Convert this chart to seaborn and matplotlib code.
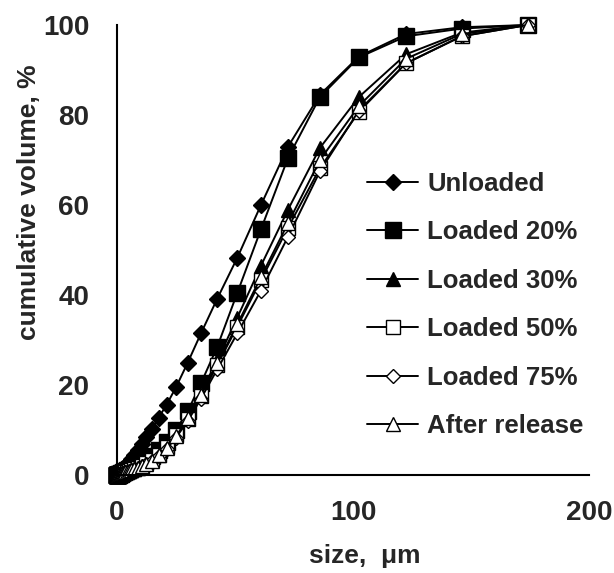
import pandas as pd
import matplotlib
matplotlib.use('Agg')
import matplotlib.pyplot as plt
import seaborn as sns


# particle size bins, um
sizes = [0.05, 0.06, 0.07, 0.08, 0.09, 0.11, 0.13, 0.15, 0.18, 0.22,
         0.26, 0.31, 0.37,
         0.44, 0.52, 0.62, 0.74, 0.88, 1.05, 1.25, 1.5, 1.8, 2.1,
         2.5, 3.0, 3.6, 4.3, 5.1, 6.1, 7.3, 8.7, 10.4, 12.4,
         14.8, 17.6, 21.0, 25.0, 30.0, 35.6, 42.5, 51.0, 61.0, 72.5,
         86.0, 102.5, 122.5, 146.0, 174.0]

# cumulative volume, %
unloaded = [0.0, 0.0, 0.0, 0.0, 0.0, 0.0, 0.0, 0.0, 0.0, 0.0,
            0.0, 0.0, 0.01,
            0.02, 0.06, 0.12, 0.2, 0.3, 0.4, 0.5, 0.65, 0.8, 1.0,
            1.2, 1.5, 1.9, 2.3, 2.9, 3.6, 4.5, 5.5, 6.8, 8.4,
            10.3, 12.7, 15.6, 19.5, 25.0, 31.5, 39.2, 48.3, 60.0, 73.0,
            84.5, 93.0, 98.0, 99.5, 100.0]
loaded_20 = [0.0, 0.0, 0.0, 0.0, 0.0, 0.0, 0.0, 0.0, 0.0, 0.0,
             0.0, 0.0, 0.0,
             0.01, 0.03, 0.06, 0.1, 0.15, 0.2, 0.25, 0.32, 0.4, 0.5,
             0.6, 0.75, 0.9, 1.1, 1.3, 1.6, 1.9, 2.3, 2.8, 3.4,
             4.3, 5.5, 7.3, 10.0, 14.2, 20.4, 28.5, 40.5, 54.6, 70.5,
             84.0, 92.8, 97.5, 99.2, 100.0]
loaded_30 = [0.0, 0.0, 0.0, 0.0, 0.0, 0.0, 0.0, 0.0, 0.0, 0.0,
             0.0, 0.0, 0.0,
             0.01, 0.02, 0.05, 0.08, 0.12, 0.17, 0.22, 0.28, 0.35, 0.42,
             0.5, 0.6, 0.7, 0.85, 1.0, 1.2, 1.5, 1.8, 2.2, 2.8,
             3.6, 4.8, 6.6, 9.3, 13.2, 18.5, 25.5, 35.0, 46.5, 59.0,
             72.7, 84.0, 93.5, 98.3, 100.0]
loaded_50 = [0.0, 0.0, 0.0, 0.0, 0.0, 0.0, 0.0, 0.0, 0.0, 0.0,
             0.0, 0.0, 0.0,
             0.01, 0.02, 0.04, 0.07, 0.1, 0.14, 0.19, 0.24, 0.3, 0.36,
             0.43, 0.52, 0.62, 0.75, 0.9, 1.1, 1.3, 1.6, 2.0, 2.6,
             3.3, 4.5, 6.2, 8.8, 12.5, 17.5, 24.5, 33.0, 43.3, 55.0,
             68.2, 80.7, 91.5, 97.5, 100.0]
loaded_75 = [0.0, 0.0, 0.0, 0.0, 0.0, 0.0, 0.0, 0.0, 0.0, 0.0,
             0.0, 0.0, 0.0,
             0.01, 0.02, 0.04, 0.06, 0.09, 0.13, 0.17, 0.22, 0.28, 0.34,
             0.41, 0.5, 0.6, 0.72, 0.86, 1.05, 1.25, 1.5, 1.9, 2.4,
             3.1, 4.2, 5.8, 8.3, 12.0, 17.0, 23.5, 31.5, 41.0, 53.0,
             67.5, 81.0, 91.5, 97.5, 100.0]
after_release = [0.0, 0.0, 0.0, 0.0, 0.0, 0.0, 0.0, 0.0, 0.0, 0.0,
                 0.0, 0.0, 0.0,
                 0.01, 0.02, 0.04, 0.07, 0.1, 0.14, 0.18, 0.23, 0.29, 0.35,
                 0.42, 0.51, 0.61, 0.74, 0.88, 1.07, 1.3, 1.6, 2.0, 2.5,
                 3.2, 4.4, 6.0, 8.6, 12.6, 17.8, 24.8, 33.5, 44.0, 56.0,
                 70.0, 82.0, 92.5, 98.0, 100.0]

labels = ['Unloaded', 'Loaded 20%', 'Loaded 30%',
          'Loaded 50%', 'Loaded 75%', 'After release']
series = [unloaded, loaded_20, loaded_30, loaded_50, loaded_75, after_release]

# marker, marker size, face colour
STYLE = [
    ('D', 8.5, 'black'),
    ('s', 12, 'black'),
    ('^', 10.5, 'black'),
    ('s', 10, 'white'),
    ('D', 7.5, 'white'),
    ('^', 10, 'white'),
]

df = pd.concat(
    [pd.DataFrame({'size': sizes, 'volume': vals, 'sample': lab})
     for lab, vals in zip(labels, series)],
    ignore_index=True)

sns.set_style('white')
plt.rcParams['font.family'] = ['Liberation Sans', 'DejaVu Sans']
plt.rcParams['font.weight'] = 'bold'

fig = plt.figure(figsize=(6.14, 5.73), dpi=100)
ax = fig.add_axes([117 / 614, 98 / 573, 472 / 614, 450 / 573])

for i, lab in enumerate(labels):
    marker, ms, face = STYLE[i]
    d = df[df['sample'] == lab]
    sns.lineplot(data=d, x='size', y='volume', ax=ax, color='black',
                 linewidth=1.4, marker=marker, markersize=ms,
                 markerfacecolor=face, markeredgecolor='black',
                 markeredgewidth=1.0, label=lab, clip_on=False)

ax.set_xlim(0, 200)
ax.set_ylim(0, 100)
ax.set_xticks([0, 100, 200])
ax.set_yticks([0, 20, 40, 60, 80, 100])
ax.tick_params(axis='both', direction='in', length=5, width=1.5,
               labelsize=20, color='black')
ax.tick_params(axis='y', pad=20)
ax.tick_params(axis='x', pad=18)
for t in ax.get_xticklabels() + ax.get_yticklabels():
    t.set_fontweight('bold')

for side in ['top', 'right']:
    ax.spines[side].set_visible(False)
for side in ['left', 'bottom']:
    ax.spines[side].set_color('black')
    ax.spines[side].set_linewidth(1.5)

ax.set_xlabel('size,  μm', fontsize=19, fontweight='bold')
ax.set_ylabel('cumulative volume, %', fontsize=19, fontweight='bold')
ax.xaxis.set_label_coords(0.525, -0.153)
ax.yaxis.set_label_coords(-0.16, 0.607)

leg = ax.legend(loc='upper left', bbox_to_anchor=(367 / 614, 1 - 172 / 573),
                bbox_transform=fig.transFigure, frameon=False,
                prop={'size': 18.5, 'weight': 'bold'},
                handlelength=2.0, handletextpad=0.35, labelspacing=0.95,
                borderpad=0, borderaxespad=0)

fig.savefig('out.png', dpi=100)
